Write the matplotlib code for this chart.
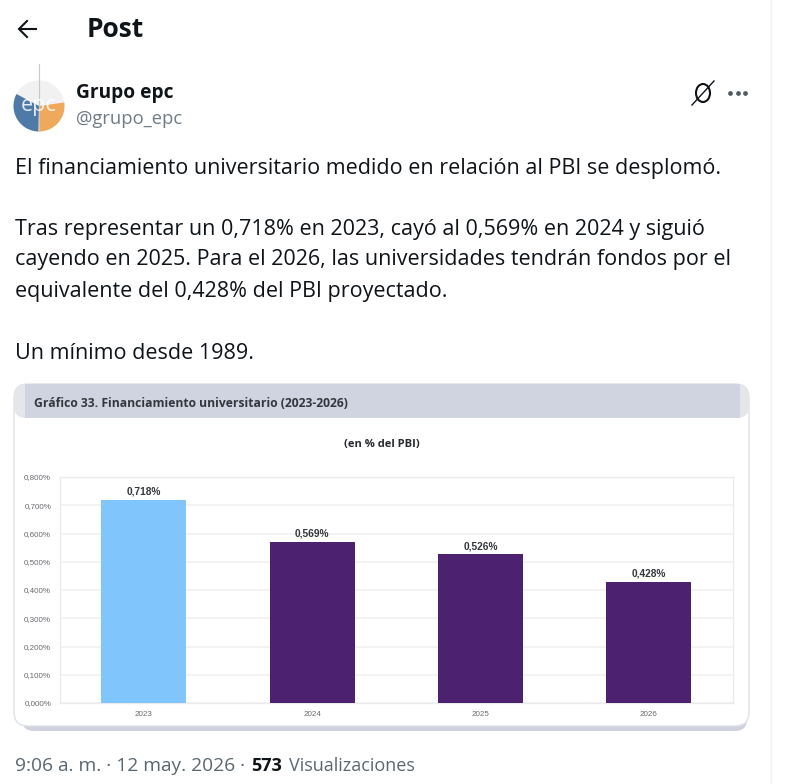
import matplotlib
matplotlib.use('Agg')
import matplotlib.pyplot as plt
from matplotlib.patches import FancyBboxPatch, Rectangle, Circle, Wedge, Ellipse

years = ['2023', '2024', '2025', '2026']
values = [0.718, 0.569, 0.526, 0.428]
value_labels = ['0,718%', '0,569%', '0,526%', '0,428%']
bar_colors = ['#80c5fc', '#4b2170', '#4b2170', '#4b2170']
y_ticks = [0, 0.1, 0.2, 0.3, 0.4, 0.5, 0.6, 0.7, 0.8]
y_tick_labels = ['0,000%', '0,100%', '0,200%', '0,300%', '0,400%', '0,500%', '0,600%', '0,700%', '0,800%']

tweet_lines = [
    (168, 'El financiamiento universitario medido en relación al PBI se desplomó.'),
    (229, 'Tras representar un 0,718% en 2023, cayó al 0,569% en 2024 y siguió'),
    (260, 'cayendo en 2025. Para el 2026, las universidades tendrán fondos por el'),
    (291, 'equivalente del 0,428% del PBI proyectado.'),
    (353, 'Un mínimo desde 1989.'),
]

W, H = 790, 784
fig = plt.figure(figsize=(W / 100, H / 100), dpi=100, facecolor='white')

# page layer in pixel coordinates
page = fig.add_axes([0, 0, 1, 1])
page.set_xlim(0, W)
page.set_ylim(H, 0)
page.axis('off')

page.plot([771, 771], [0, H], color='#eff3f4', lw=1)

# header
page.plot([19, 37], [29, 29], color='#0f1419', lw=1.5, solid_capstyle='butt')
page.plot([27, 19, 27], [21, 29, 37], color='#0f1419', lw=1.5, solid_joinstyle='miter')
page.text(87, 29, 'Post', fontsize=19, fontweight='bold', family='Open Sans', color='#0f1419', va='center')

# avatar
page.add_patch(Circle((39, 106), 25.5, color='#f1f1f1', lw=0))
page.add_patch(Wedge((39, 106), 25.5, -8, 92, color='#efa95c', lw=0))
page.add_patch(Wedge((39, 106), 25.5, 92, 208, color='#4f79a6', lw=0))
page.plot([39, 39], [64, 131], color='#c9c9c9', lw=0.8)
page.text(38.5, 105, 'epc', fontsize=15.5, color='white', ha='center', va='center', family='Open Sans', alpha=0.85)

page.text(76, 93, 'Grupo epc', fontsize=13.8, fontweight='bold', family='Open Sans', color='#0f1419', va='center')
page.text(76, 119, '@grupo_epc', fontsize=13.2, family='Open Sans', color='#6f7b85', va='center')

# icon and dots top right
page.add_patch(Ellipse((703, 93), 14, 18, fill=False, ec='#0f1419', lw=1.5))
page.plot([692, 714], [105, 81], color='#0f1419', lw=1)
page.plot([730, 737.5, 745], [93, 93, 93], ls='none', marker='o', ms=2.4, color='#4f5a63')

for y, line in tweet_lines:
    page.text(15, y, line, fontsize=15.5, family='Open Sans', color='#0f1419', va='center')

# image card
page.add_patch(FancyBboxPatch((22, 400), 725, 331, boxstyle='round,pad=0,rounding_size=12',
                              fc='#cfd3df', ec='none'))
page.add_patch(FancyBboxPatch((14, 384), 735, 342, boxstyle='round,pad=0,rounding_size=14',
                              fc='white', ec='#dfe1e6', lw=1))
page.add_patch(FancyBboxPatch((14, 384), 735, 34, boxstyle='round,pad=0,rounding_size=12',
                              fc='#e4e6ea', ec='none'))
page.add_patch(Rectangle((25, 384), 715, 34, fc='#d0d4e0', ec='none'))
page.text(34, 403, 'Gráfico 33. Financiamiento universitario (2023-2026)', fontsize=8.75, fontweight='bold',
          family='Open Sans', color='#33373d', va='center')
page.text(382, 444, '(en % del PBI)', fontsize=8, fontweight='bold', family='Open Sans',
          color='#26292e', ha='center', va='center')

page.text(15, 766, '9:06 a. m. · 12 may. 2026 ·', fontsize=13.8, family='Open Sans', color='#5b6770', va='center')
page.text(251, 766, '573', fontsize=13, fontweight='bold', family='Open Sans', color='#0f1419', va='center')
page.text(289, 766, 'Visualizaciones', fontsize=13, family='Open Sans', color='#5b6770', va='center')

# bar chart
ax = fig.add_axes([59.5 / W, 1 - 703 / H, (733 - 59.5) / W, (703 - 477) / H])
ax.patch.set_alpha(0)
ax.bar(range(4), values, width=0.505, color=bar_colors, zorder=3)
ax.set_xlim(-0.5, 3.5)
ax.set_ylim(0, 0.8)
ax.set_yticks(y_ticks)
ax.set_yticklabels(y_tick_labels, fontsize=5.8, color='#66696d', family='Liberation Sans')
ax.set_xticks(range(4))
ax.set_xticklabels(years, fontsize=5.8, color='#66696d', family='Liberation Sans')
ax.tick_params(axis='y', length=0, pad=6)
ax.tick_params(axis='x', length=0, pad=5.5)
ax.grid(axis='y', color='#f0f0f2', lw=1.1, zorder=0)
for s in ax.spines.values():
    s.set_color('#ebebee')
    s.set_linewidth(1)
for x, v, lab in zip(range(4), values, value_labels):
    ax.text(x, v + 0.012, lab, ha='center', va='bottom', fontsize=7.3, fontweight='bold',
            family='Liberation Sans', color='#33363b')

fig.savefig('out.png', dpi=100)
